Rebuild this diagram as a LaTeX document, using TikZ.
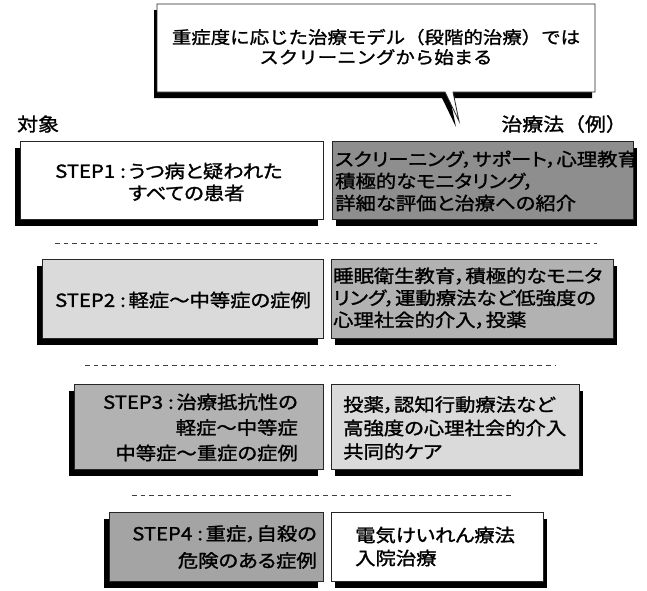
\documentclass[tikz,border=0pt]{standalone}
\usepackage{fontspec}
\newfontfamily\jpbox[FakeStretch=1.13,FakeBold=1.4,RawFeature=+palt]{Noto Sans CJK JP}
\newfontfamily\jpcall[FakeStretch=1.13,FakeBold=1.4]{Noto Sans CJK JP}
\usetikzlibrary{shadows}
\definecolor{gDark}{HTML}{8E8E8E}
\definecolor{gMid}{HTML}{B2B2B2}
\definecolor{gMidB}{HTML}{A4A4A4}
\definecolor{gLight}{HTML}{DADADA}
\newcommand{\stepcolon}{\hspace{0.28em}:\hspace{0.15em}}
\begin{document}
\begin{tikzpicture}[x=1pt,y=-1pt,
  boxbase/.style={draw=black!85, line width=0.8pt, anchor=north west, inner sep=0pt},
  lsh/.style={drop shadow={shadow xshift=-5pt, shadow yshift=-7pt, fill=black, opacity=1}},
  rsh/.style={drop shadow={shadow xshift=4pt, shadow yshift=-7pt, fill=black, opacity=1}},
  txt/.style={inner sep=0pt, font=\jpbox\fontsize{18}{22}\selectfont},
  calltxt/.style={inner sep=0pt, align=center, font=\jpcall\fontsize{17.2}{20}\selectfont},
  head/.style={inner sep=0pt, font=\jpcall\fontsize{18.5}{22}\selectfont},
  dashline/.style={draw=black!75, line width=0.7pt, dash pattern=on 4.5pt off 4.2pt}]
\useasboundingbox (0,0) rectangle (647,590);
% callout
\fill[black, shift={(-3,6)}] (157,4) -- (595,4) -- (595,92) -- (453,92) -- (459,121) -- (445,92) -- (157,92) -- cycle;
\filldraw[fill=white, draw=black!85, line width=0.8pt] (157,4) -- (595,4) -- (595,92) -- (453,92) -- (459,121) -- (445,92) -- (157,92) -- cycle;
\node[calltxt] (ct) at (376,47) {重症度に応じた治療モデル（段階的治療）では\\スクリーニングから始まる};
% headings
\node[head, anchor=west] (hl) at (17,124) {対象};
\node[head, anchor=east] (hr) at (627,124) {治療法（例）};
% STEP1
\node[boxbase, lsh, fill=white, minimum width=303, minimum height=78] (b1l) at (20,141) {};
\node[boxbase, rsh, fill=gDark, minimum width=301, minimum height=78] (b1r) at (332,141) {};
\node[txt, anchor=west, align=left] (t1l) at (55,182) {STEP1\stepcolon うつ病と疑われた\\\phantom{STEP1\stepcolon}すべての患者};
\node[txt, anchor=west, align=left] (t1r) at (335,181) {スクリーニング，サポート，心理教育\\積極的なモニタリング，\\詳細な評価と治療への紹介};
% dashed 1
\coordinate (d1a) at (55,243); \coordinate (d1b) at (597,243);
\draw[dashline] (d1a) -- (d1b);
% STEP2
\node[boxbase, lsh, fill=gLight, minimum width=281, minimum height=79] (b2l) at (42,259) {};
\node[boxbase, rsh, fill=gMid, minimum width=282, minimum height=79] (b2r) at (331,259) {};
\node[txt] (t2l) at (183,300) {STEP2\stepcolon 軽症～中等症の症例};
\node[txt, anchor=west, align=left] (t2r) at (333,298) {睡眠衛生教育，積極的なモニタ\\リング，運動療法など低強度の\\心理社会的介入，投薬};
% dashed 2
\coordinate (d2a) at (85,365); \coordinate (d2b) at (555,365);
\draw[dashline] (d2a) -- (d2b);
% STEP3
\node[boxbase, lsh, fill=gMid, minimum width=249, minimum height=85] (b3l) at (74,384) {};
\node[boxbase, rsh, fill=gLight, minimum width=248, minimum height=85] (b3r) at (331,384) {};
\node[txt, anchor=east, align=right, font=\jpbox\fontsize{18}{25.5}\selectfont] (t3l) at (298,427.5) {STEP3\stepcolon 治療抵抗性の\\軽症～中等症\\中等症～重症の症例};
\node[txt, anchor=west, align=left, font=\jpbox\fontsize{18}{23.5}\selectfont] (t3r) at (343,428) {投薬，認知行動療法など\\高強度の心理社会的介入\\共同的ケア};
% dashed 3
\coordinate (d3a) at (132,495); \coordinate (d3b) at (512,495);
\draw[dashline] (d3a) -- (d3b);
% STEP4
\node[boxbase, lsh, fill=gMidB, minimum width=214, minimum height=69] (b4l) at (109,512) {};
\node[boxbase, rsh, fill=white, minimum width=212, minimum height=69] (b4r) at (331,512) {};
\node[txt, anchor=east, align=right, font=\jpbox\fontsize{18}{27}\selectfont] (t4l) at (317,547) {STEP4\stepcolon 重症，自殺の\\危険のある症例};
\node[txt, anchor=west, align=left, font=\jpbox\fontsize{18}{23}\selectfont] (t4r) at (355,546.5) {電気けいれん療法\\入院治療};
\end{tikzpicture}
\end{document}
